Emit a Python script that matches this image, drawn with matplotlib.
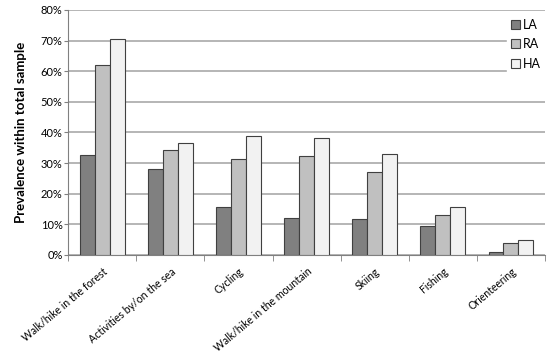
import numpy as np
import matplotlib
matplotlib.use("Agg")
import matplotlib.pyplot as plt
from matplotlib.ticker import FixedLocator, PercentFormatter

categories = ["Walk/hike in the forest", "Activities by/on the sea", "Cycling",
              "Walk/hike in the mountain", "Skiing", "Fishing", "Orienteering"]
la = [32.5, 28.1, 15.7, 11.9, 11.7, 9.5, 1.0]
ra = [62.0, 34.2, 31.3, 32.2, 27.0, 13.0, 3.8]
ha = [70.5, 36.7, 38.9, 38.1, 32.9, 15.6, 4.8]

plt.rcParams["font.family"] = ["Lato", "DejaVu Sans"]

fig = plt.figure(figsize=(5.5, 3.54), dpi=100)
ax = fig.add_axes([0.124, 0.28, 0.867, 0.692])

x = np.arange(len(categories))
w = 0.22
edge = "#404040"
ax.bar(x - w, la, w, color="#808080", edgecolor=edge, linewidth=0.8, label="LA", zorder=3)
ax.bar(x, ra, w, color="#c0c0c0", edgecolor=edge, linewidth=0.8, label="RA", zorder=3)
ax.bar(x + w, ha, w, color="#f2f2f2", edgecolor=edge, linewidth=0.8, label="HA", zorder=3)

ax.set_xlim(-0.5, len(categories) - 0.5)
ax.set_ylim(0, 80)
ax.set_yticks(np.arange(0, 81, 10))
ax.yaxis.set_major_formatter(PercentFormatter(decimals=0))
ax.grid(axis="y", color="#b0b0b0", linewidth=1.3, zorder=0)

ax.set_xticks(x)
ax.set_xticklabels(categories, rotation=40, ha="right", rotation_mode="anchor", fontsize=7.6)
ax.tick_params(axis="x", length=0, pad=8)
ax.xaxis.set_minor_locator(FixedLocator(np.arange(-0.5, len(categories), 1.0)))
ax.tick_params(axis="x", which="minor", length=4, color="#808080")
ax.tick_params(axis="y", labelsize=8, length=3, color="#808080", pad=1)

for s in ["top", "right"]:
    ax.spines[s].set_visible(False)
for s in ["left", "bottom"]:
    ax.spines[s].set_color("#808080")

ax.set_ylabel("Prevalence within total sample", fontsize=9.5, fontweight="bold", labelpad=10)

leg = ax.legend(loc="upper right", bbox_to_anchor=(1.0, 0.98), frameon=True, fontsize=9,
                handlelength=0.7, handleheight=0.7, handletextpad=0.3, labelspacing=0.6,
                borderpad=0.3, borderaxespad=0.0)
leg.get_frame().set_edgecolor("white")
leg.get_frame().set_facecolor("white")
leg.get_frame().set_alpha(1.0)

fig.savefig("out.png", dpi=100)
